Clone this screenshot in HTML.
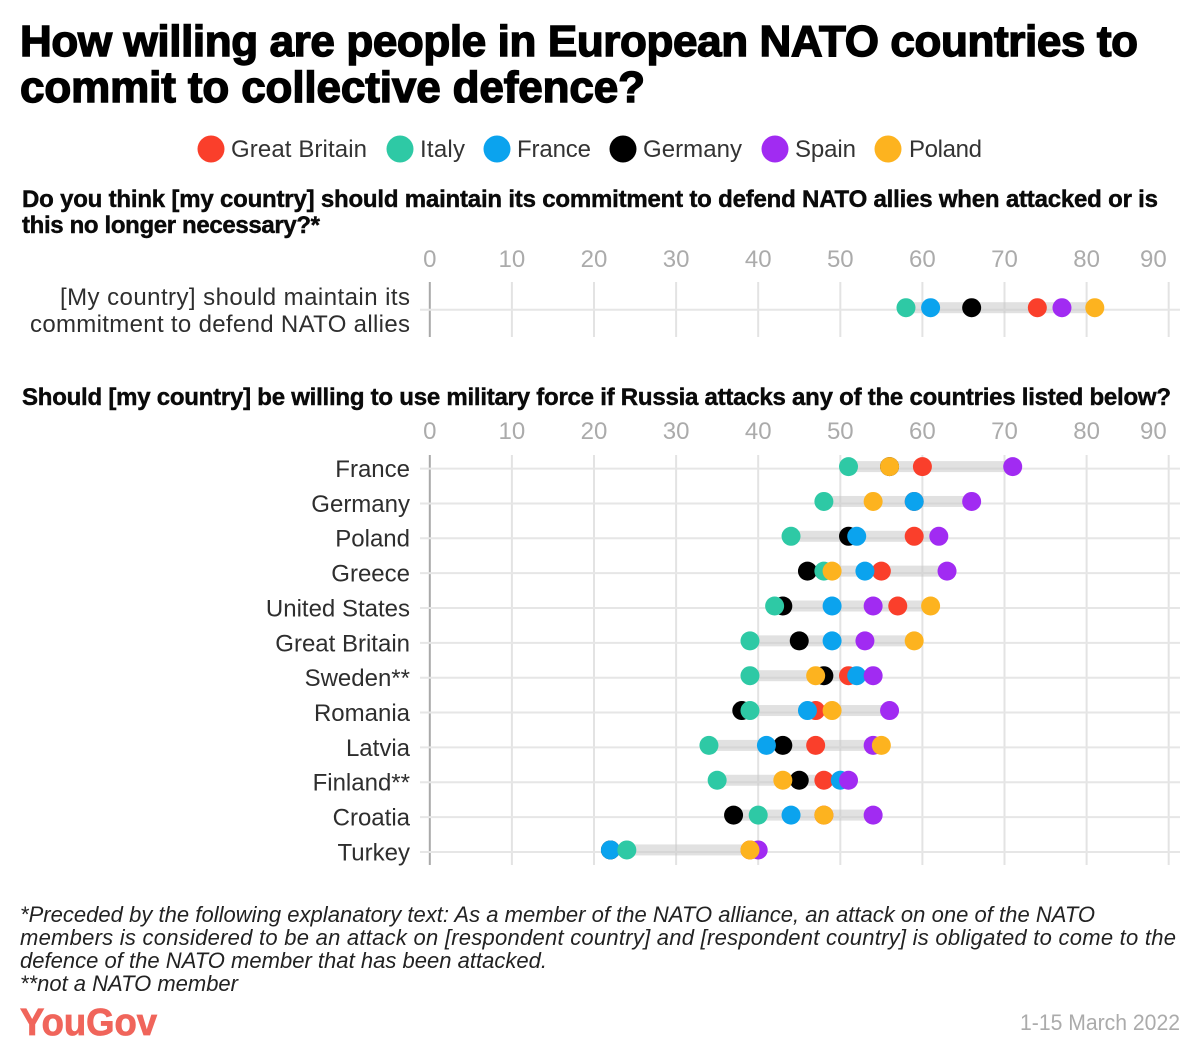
<!DOCTYPE html>
<html lang="en">
<head>
<meta charset="utf-8">
<title>How willing are people in European NATO countries to commit to collective defence?</title>
<style>
html,body{margin:0;padding:0;background:#fff;width:1200px;height:1061px;overflow:hidden}
svg{display:block;font-family:"Liberation Sans",sans-serif}
.title{font-size:44px;font-weight:700;fill:#000;stroke:#000;stroke-width:1.4px}
.sub{font-size:24px;font-weight:700;fill:#0a0a0a;stroke:#0a0a0a;stroke-width:.45px}
.leg{font-size:24px;fill:#333}
.lab{font-size:24px;fill:#2e2e2e;text-anchor:end}
.note{font-size:22px;font-style:italic;fill:#222}
.tick{font-size:24px;fill:#ababab}
</style>
</head>
<body>
<svg id="chart" width="1200" height="1061" viewBox="0 0 1200 1061" xmlns="http://www.w3.org/2000/svg">
  <g>
    <text class="title" x="20" y="56" textLength="1118" lengthAdjust="spacing">How willing are people in European NATO countries to</text>
    <text class="title" x="20" y="102" textLength="625" lengthAdjust="spacing">commit to collective defence?</text>
  </g>
  <g>
    <g><circle cx="211" cy="149" r="13.5" fill="#fa3f2b"/><text class="leg" x="231" y="157" textLength="136">Great Britain</text></g>
    <g><circle cx="400" cy="149" r="13.5" fill="#2ec9a5"/><text class="leg" x="420" y="157" textLength="45">Italy</text></g>
    <g><circle cx="497" cy="149" r="13.5" fill="#0ba3ee"/><text class="leg" x="517" y="157" textLength="74">France</text></g>
    <g><circle cx="623" cy="149" r="13.5" fill="#000"/><text class="leg" x="643" y="157" textLength="99">Germany</text></g>
    <g><circle cx="775" cy="149" r="13.5" fill="#a12bf2"/><text class="leg" x="795" y="157" textLength="61">Spain</text></g>
    <g><circle cx="888" cy="149" r="13.5" fill="#fdb31f"/><text class="leg" x="909" y="157" textLength="73">Poland</text></g>
  </g>
  <g>
    <text class="sub" x="22" y="207" textLength="1136" lengthAdjust="spacing">Do you think [my country] should maintain its commitment to defend NATO allies when attacked or is</text>
    <text class="sub" x="22" y="233" textLength="298" lengthAdjust="spacing">this no longer necessary?*</text>
  </g>
  <text class="sub" x="22" y="405" textLength="1149" lengthAdjust="spacing">Should [my country] be willing to use military force if Russia attacks any of the countries listed below?</text>
  <g id="panel-top"></g>
  <g id="panel-main"></g>
  <g>
    <text class="note" x="20" y="922" textLength="1075" lengthAdjust="spacing">*Preceded by the following explanatory text: As a member of the NATO alliance, an attack on one of the NATO</text>
    <text class="note" x="20" y="945" textLength="1156" lengthAdjust="spacing">members is considered to be an attack on [respondent country] and [respondent country] is obligated to come to the</text>
    <text class="note" x="20" y="968" textLength="527" lengthAdjust="spacing">defence of the NATO member that has been attacked.</text>
    <text class="note" x="20" y="991" textLength="218" lengthAdjust="spacing">**not a NATO member</text>
  </g>
  <text x="20" y="1035" font-size="38" font-weight="700" fill="#f0655b" stroke="#f0655b" stroke-width=".8" textLength="137" lengthAdjust="spacingAndGlyphs">YouGov</text>
  <text x="1020" y="1030" font-size="22" fill="#ababab" textLength="160" lengthAdjust="spacingAndGlyphs">1-15 March 2022</text>
</svg>
<script>
const ticks = [0, 10, 20, 30, 40, 50, 60, 70, 80, 90];
const drawOrder = ['germany', 'greatBritain', 'france', 'italy', 'spain', 'poland'];
const topCategories = [['[My country] should maintain its', 'commitment to defend NATO allies']];
const topGreatBritain = [74];
const topItaly = [58];
const topFrance = [61];
const topGermany = [66];
const topSpain = [77];
const topPoland = [81];
const categories = ['France', 'Germany', 'Poland', 'Greece', 'United States', 'Great Britain', 'Sweden**', 'Romania', 'Latvia', 'Finland**', 'Croatia', 'Turkey'];
const greatBritain = [60, 59, 59, 55, 57, null, 51, 47, 47, 48, 48, 39];
const italy = [51, 48, 44, 48, 42, 39, 39, 39, 34, 35, 40, 24];
const france = [null, 59, 52, 53, 49, 49, 52, 46, 41, 50, 44, 22];
const germany = [56, null, 51, 46, 43, 45, 48, 38, 43, 45, 37, 22];
const spain = [71, 66, 62, 63, 54, 53, 54, 56, 54, 51, 54, 40];
const poland = [56, 54, null, 49, 61, 59, 47, 49, 55, 43, 48, 39];

const topSeries = {greatBritain: topGreatBritain, italy: topItaly, france: topFrance, germany: topGermany, spain: topSpain, poland: topPoland};
const mainSeries = {greatBritain: greatBritain, italy: italy, france: france, germany: germany, spain: spain, poland: poland};
const colors = {greatBritain: '#fa3f2b', italy: '#2ec9a5', france: '#0ba3ee', germany: '#000000', spain: '#a12bf2', poland: '#fdb31f'};
const NS = 'http://www.w3.org/2000/svg';
const xScale = function (v) { return 429.8 + v * 8.21; };

function make(parent, tag, attrs, text) {
  const el = document.createElementNS(NS, tag);
  Object.keys(attrs).forEach(function (k) { el.setAttribute(k, attrs[k]); });
  if (text !== undefined) el.textContent = text;
  parent.appendChild(el);
  return el;
}

function drawPanel(parent, cats, series, o) {
  ticks.forEach(function (t, i) {
    const last = i === ticks.length - 1;
    const label = make(parent, 'text', {class: 'tick', x: last ? xScale(t) - 2 : xScale(t), y: o.tickY, 'text-anchor': last ? 'end' : 'middle'}, String(t));
    
    
    const grid = make(parent, 'line', {x1: xScale(t), x2: xScale(t), y1: o.gridTop, y2: o.gridBottom, stroke: t === 0 ? '#a9a9a9' : '#e3e3e3', 'stroke-width': 2});
    
    
  });
  cats.forEach(function (cat, r) {
    const y = o.firstY + r * o.step;
    const rowLine = make(parent, 'line', {x1: 420, x2: 1180, y1: y + 2, y2: y + 2, stroke: '#e6e6e6', 'stroke-width': 2});
    
    
    const lines = Array.isArray(cat) ? cat : [cat];
    lines.forEach(function (line, li) {
      const attrs = {class: 'lab', x: 410, y: o.labelY + r * o.step + li * 27};
      if (o.labelWidths) attrs.textLength = o.labelWidths[li];
      const label = make(parent, 'text', attrs, line);
      
      
    });
    const vals = drawOrder.map(function (k) { return series[k][r]; }).filter(function (v) { return v !== null; });
    const lo = Math.min.apply(null, vals);
    const hi = Math.max.apply(null, vals);
    const range = make(parent, 'rect', {x: xScale(lo), y: y - 5.5, width: xScale(hi) - xScale(lo), height: 11, fill: '#c9c9c9', 'fill-opacity': 0.55});
    
    
    drawOrder.forEach(function (k) {
      const v = series[k][r];
      if (v === null) return;
      const dot = make(parent, 'circle', {cx: xScale(v), cy: y, r: 9.5, fill: colors[k]});
      
      
    });
  });
}

drawPanel(document.getElementById('panel-top'), topCategories, topSeries, {tickY: 267, gridTop: 282, gridBottom: 337, firstY: 307.7, step: 0, labelY: 305, labelWidths: [350, 380]});
drawPanel(document.getElementById('panel-main'), categories, mainSeries, {tickY: 439, gridTop: 455, gridBottom: 865, firstY: 466.6, step: 34.85, labelY: 477});
</script>
</body>
</html>
